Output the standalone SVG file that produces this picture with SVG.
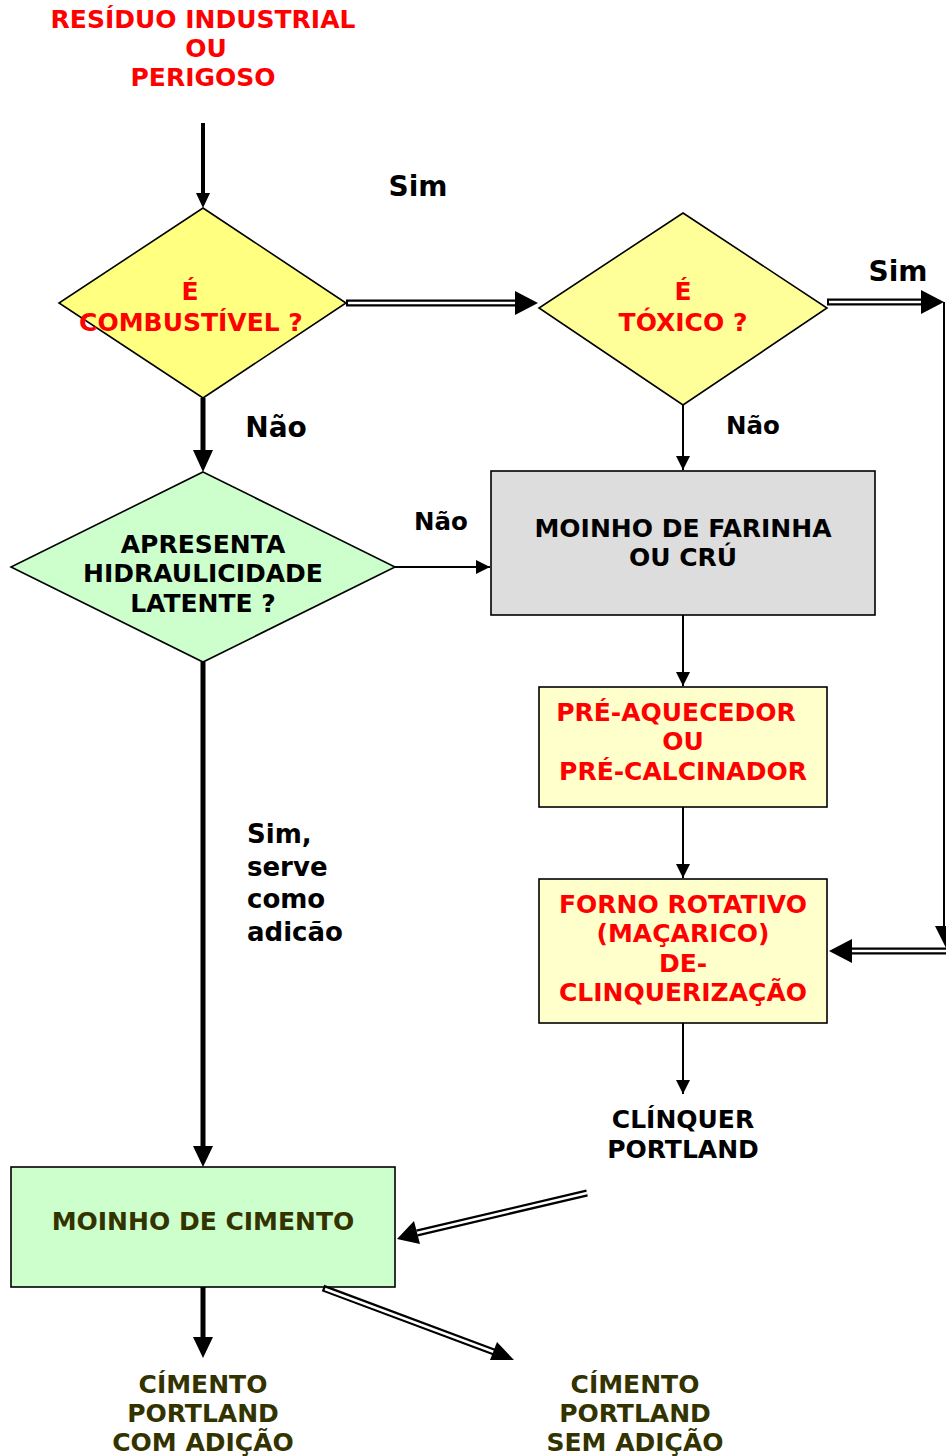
<svg xmlns="http://www.w3.org/2000/svg" width="946" height="1456" viewBox="0 0 946 1456">
  <style>
    text { font-family: "DejaVu Sans", Verdana, sans-serif; font-weight: bold; text-anchor: middle; font-size: 25px; }
    .red { fill: #FF0000; }
    .blk { fill: #000000; }
    .olive { fill: #333300; }
    .lbl { text-anchor: start; font-size: 26px; }
    .big { font-size: 28px; }
    .mid { font-size: 24.5px; }
    .shape { stroke: #000; stroke-width: 1.6; }
    .thin { stroke: #000; stroke-width: 2; fill: none; }
    .thick { stroke: #000; stroke-width: 5; fill: none; }
    .dblOut { stroke: #000; stroke-width: 7; fill: none; }
    .dblIn { stroke: #fff; stroke-width: 2.5; fill: none; }
    .head { fill: #000; }
  </style>
  <defs>
    <marker id="arrSmall" markerUnits="userSpaceOnUse" markerWidth="14" markerHeight="14" viewBox="0 0 14 14" refX="14" refY="7" orient="auto">
      <path d="M0,0 L14,7 L0,14 Z" fill="#000"/>
    </marker>
  </defs>
  <rect width="946" height="1456" fill="#fff"/>

  <!-- source -->
  <g id="source">
    <text class="red" x="203" y="28">RESÍDUO INDUSTRIAL</text>
    <text class="red" x="206" y="57">OU</text>
    <text class="red" x="203" y="86">PERIGOSO</text>
  </g>

  <!-- decision: combustible -->
  <g id="combustivel">
    <polygon class="shape" points="203,208 346,303 203,398 59,303" fill="#FFFF80"/>
    <text class="red" x="190" y="300">É</text>
    <text class="red" x="191" y="331">COMBUSTÍVEL ?</text>
  </g>

  <!-- decision: toxic -->
  <g id="toxico">
    <polygon class="shape" points="683,213 827,308 683,405 539,308" fill="#FFFF99"/>
    <text class="red" x="683" y="300">É</text>
    <text class="red" x="683" y="331">TÓXICO ?</text>
  </g>

  <!-- decision: latent hydraulicity -->
  <g id="hidraulicidade">
    <polygon class="shape" points="203,472 395,567 203,662 11,567" fill="#CCFFCC"/>
    <text class="blk" x="203" y="553">APRESENTA</text>
    <text class="blk" x="203" y="582">HIDRAULICIDADE</text>
    <text class="blk" x="203" y="612">LATENTE ?</text>
  </g>

  <!-- raw meal mill -->
  <g id="moinho-farinha">
    <rect class="shape" x="491" y="471" width="384" height="144" fill="#DDDDDD"/>
    <text class="blk" x="683" y="537">MOINHO DE FARINHA</text>
    <text class="blk" x="683" y="566">OU CRÚ</text>
  </g>

  <!-- preheater -->
  <g id="pre-aquecedor">
    <rect class="shape" x="539" y="687" width="288" height="120" fill="#FFFFCC"/>
    <text class="red" x="676" y="721">PRÉ-AQUECEDOR</text>
    <text class="red" x="683" y="750">OU</text>
    <text class="red" x="683" y="780">PRÉ-CALCINADOR</text>
  </g>

  <!-- rotary kiln -->
  <g id="forno">
    <rect class="shape" x="539" y="879" width="288" height="144" fill="#FFFFCC"/>
    <text class="red" x="683" y="913">FORNO ROTATIVO</text>
    <text class="red" x="683" y="942">(MAÇARICO)</text>
    <text class="red" x="683" y="972">DE-</text>
    <text class="red" x="683" y="1001">CLINQUERIZAÇÃO</text>
  </g>

  <!-- clinker -->
  <g id="clinquer">
    <text class="blk" x="683" y="1128">CLÍNQUER</text>
    <text class="blk" x="683" y="1158">PORTLAND</text>
  </g>

  <!-- cement mill -->
  <g id="moinho-cimento">
    <rect class="shape" x="11" y="1167" width="384" height="120" fill="#CCFFCC"/>
    <text class="olive" x="203" y="1230">MOINHO DE CIMENTO</text>
  </g>

  <!-- products -->
  <g id="cimento-com-adicao">
    <text class="olive" x="203" y="1393">CÍMENTO</text>
    <text class="olive" x="203" y="1422">PORTLAND</text>
    <text class="olive" x="203" y="1451">COM ADIÇÃO</text>
  </g>
  <g id="cimento-sem-adicao">
    <text class="olive" x="635" y="1393">CÍMENTO</text>
    <text class="olive" x="635" y="1422">PORTLAND</text>
    <text class="olive" x="635" y="1451">SEM ADIÇÃO</text>
  </g>

  <!-- connectors -->
  <g id="connectors">
    <!-- source to first decision -->
    <line x1="203" y1="123" x2="203" y2="194" style="stroke:#000;stroke-width:4"/>
    <polygon class="head" points="196,193 210,193 203,208"/>

    <!-- combustible: yes -->
    <line class="dblOut" x1="346" y1="303" x2="517" y2="303"/>
    <line class="dblIn" x1="348" y1="303" x2="517" y2="303"/>
    <polygon class="head" points="515,291 538,303 515,315"/>
    <text class="blk big" x="418" y="196">Sim</text>

    <!-- combustible: no -->
    <line class="thick" x1="203" y1="398" x2="203" y2="452"/>
    <polygon class="head" points="193,450 213,450 203,472"/>
    <text class="blk big" x="276" y="437">Não</text>

    <!-- toxic: yes -->
    <line class="dblOut" x1="827" y1="302" x2="922" y2="302"/>
    <line class="dblIn" x1="829" y1="302" x2="922" y2="302"/>
    <polygon class="head" points="921,290 944,302 921,314"/>
    <text class="blk big" x="898" y="281">Sim</text>
    <line x1="944" y1="302" x2="944" y2="930" style="stroke:#000;stroke-width:2"/>
    <polygon class="head" points="935,926 946,926 946,948"/>
    <line class="dblOut" x1="946" y1="951" x2="850" y2="951"/>
    <line class="dblIn" x1="946" y1="951" x2="850" y2="951"/>
    <polygon class="head" points="852,939 829,951 852,963"/>

    <!-- toxic: no -->
    <line class="thin" x1="683" y1="405" x2="683" y2="470" marker-end="url(#arrSmall)"/>
    <text class="blk mid" x="753" y="434">Não</text>

    <!-- hydraulicity: no -->
    <line class="thin" x1="395" y1="567" x2="490" y2="567" marker-end="url(#arrSmall)"/>
    <text class="blk mid" x="441" y="530">Não</text>

    <!-- process chain -->
    <line class="thin" x1="683" y1="615" x2="683" y2="686" marker-end="url(#arrSmall)"/>
    <line class="thin" x1="683" y1="807" x2="683" y2="878" marker-end="url(#arrSmall)"/>
    <line class="thin" x1="683" y1="1023" x2="683" y2="1094" marker-end="url(#arrSmall)"/>

    <!-- hydraulicity: yes -->
    <line class="thick" x1="203" y1="662" x2="203" y2="1148"/>
    <polygon class="head" points="193,1146 213,1146 203,1167"/>
    <text class="blk lbl" x="247" y="843">Sim,</text>
    <text class="blk lbl" x="247" y="876">serve</text>
    <text class="blk lbl" x="247" y="908">como</text>
    <text class="blk lbl" x="247" y="941">adicão</text>

    <!-- clinker to cement mill -->
    <line class="dblOut" x1="587" y1="1193" x2="417" y2="1233"/>
    <line class="dblIn" x1="587" y1="1193" x2="417" y2="1233"/>
    <polygon class="head" points="397,1239 414,1221 420,1244"/>

    <!-- cement mill outputs -->
    <line class="thick" x1="203" y1="1287" x2="203" y2="1340"/>
    <polygon class="head" points="193,1337 213,1337 203,1358"/>
    <line class="dblOut" x1="323" y1="1288" x2="494" y2="1352"/>
    <line class="dblIn" x1="325" y1="1289" x2="494" y2="1352"/>
    <polygon class="head" points="514,1360 490,1360 497,1342"/>
  </g>
</svg>
